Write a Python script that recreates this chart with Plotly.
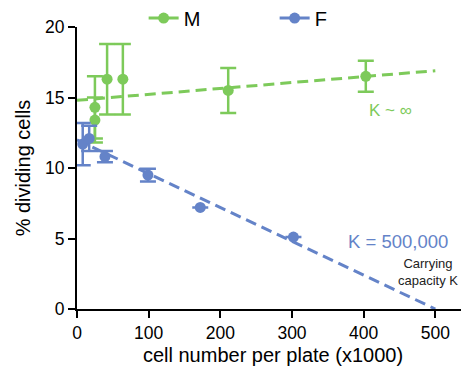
import plotly.graph_objects as go

# Data
m_x = [25, 25, 42, 64, 211, 403]
m_y = [14.3, 13.4, 16.3, 16.3, 15.5, 16.5]
m_err = [2.2, 1.6, 2.5, 2.5, 1.6, 1.1]

f_x = [8, 17, 39, 99, 172, 302]
f_y = [11.7, 12.1, 10.8, 9.5, 7.2, 5.1]
f_err = [1.5, 0.9, 0.4, 0.45, 0.0, 0.0]

m_fit_x = [0, 500]
m_fit_y = [14.8, 16.9]
f_fit_x = [0, 500]
f_fit_y = [12.0, 0.0]

x_ticks = [0, 100, 200, 300, 400, 500]
y_ticks = [0, 5, 10, 15, 20]

GREEN = "#7dca5a"
BLUE = "#6483c8"
FONT = "Liberation Sans, Arial, sans-serif"

fig = go.Figure()

fig.add_trace(go.Scatter(x=m_fit_x, y=m_fit_y, mode="lines",
                         line=dict(color=GREEN, width=3, dash="11px,6px"),
                         showlegend=False, hoverinfo="skip"))
fig.add_trace(go.Scatter(x=f_fit_x, y=f_fit_y, mode="lines",
                         line=dict(color=BLUE, width=3, dash="11px,6px"),
                         showlegend=False, hoverinfo="skip"))

fig.add_trace(go.Scatter(x=m_x, y=m_y, mode="markers",
                         marker=dict(color=GREEN, size=11),
                         error_y=dict(type="data", array=m_err, color=GREEN,
                                      thickness=2.5, width=8),
                         showlegend=False))
fig.add_trace(go.Scatter(x=f_x, y=f_y, mode="markers",
                         marker=dict(color=BLUE, size=11),
                         error_y=dict(type="data", array=f_err, color=BLUE,
                                      thickness=2.5, width=8),
                         showlegend=False))

# legend-only entries
fig.add_trace(go.Scatter(x=[None], y=[None], mode="lines+markers", name="M",
                         marker=dict(color=GREEN, size=11),
                         line=dict(color=GREEN, width=3)))
fig.add_trace(go.Scatter(x=[None], y=[None], mode="lines+markers", name="F",
                         marker=dict(color=BLUE, size=11),
                         line=dict(color=BLUE, width=3)))

fig.add_annotation(x=438, y=14.1, text="K ~ ∞", showarrow=False,
                   font=dict(color=GREEN, size=17, family=FONT))
fig.add_annotation(x=448, y=4.8, text="K = 500,000", showarrow=False,
                   font=dict(color=BLUE, size=18.5, family=FONT))
fig.add_annotation(x=0.978, xref="paper", xanchor="right", y=2.6,
                   text="Carrying<br>capacity K", showarrow=False,
                   font=dict(color="#222222", size=13, family=FONT),
                   align="center")

# page body has an 8px default margin, so the figure is sized to fit
fig.update_layout(
    width=461, height=358,
    margin=dict(l=69, r=0, t=19, b=57, autoexpand=False),
    plot_bgcolor="white", paper_bgcolor="white",
    font=dict(family=FONT, color="black"),
    legend=dict(orientation="h", x=0.17, y=0.972, xanchor="left", yanchor="middle",
                yref="container",
                font=dict(size=20), entrywidth=86, entrywidthmode="pixels",
                bgcolor="rgba(0,0,0,0)"),
    xaxis=dict(range=[0, 547], tickvals=x_ticks, showgrid=False, zeroline=False,
               showline=True, linecolor="black", linewidth=2, automargin=False,
               ticks="outside", ticklen=7, tickwidth=2, tickcolor="black",
               tickfont=dict(size=17.5),
               title=dict(text="cell number per plate (x1000)", font=dict(size=20),
                          standoff=16)),
    yaxis=dict(range=[0, 20], tickvals=y_ticks, showgrid=False, zeroline=False,
               showline=True, linecolor="black", linewidth=2, automargin=False,
               ticks="outside", ticklen=7, tickwidth=2, tickcolor="black",
               tickfont=dict(size=17.5),
               title=dict(text="% dividing cells", font=dict(size=20), standoff=9)),
)

fig.write_html("out.html")
